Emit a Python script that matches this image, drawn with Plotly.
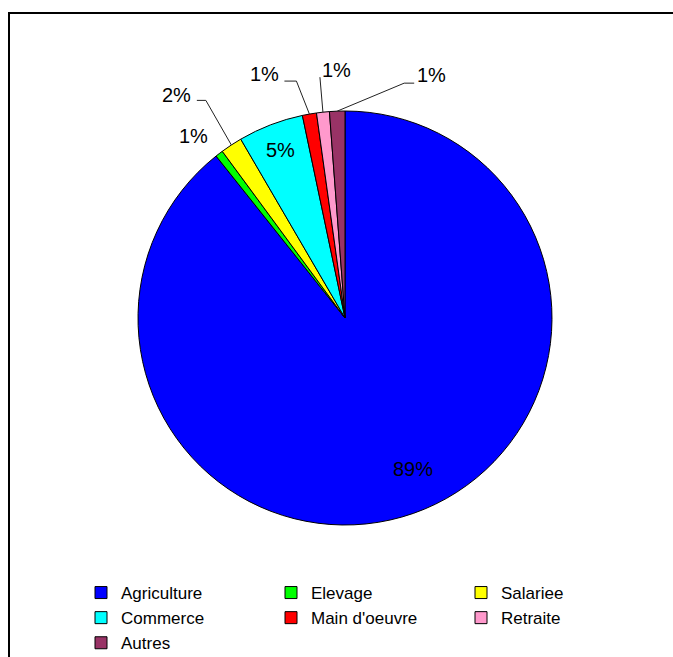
import math
import plotly.graph_objects as go

# ---- data ----
categories = ["Agriculture", "Elevage", "Salariee", "Commerce", "Main d'oeuvre", "Retraite", "Autres"]
values = [89.3, 0.6, 1.7, 5.1, 1.1, 1.0, 1.2]
colors = ["#0000FF", "#00FF00", "#FFFF00", "#00FFFF", "#FF0000", "#FF99CC", "#993366"]

# ---- layout constants (pixels) ----
W, H = 673, 657
CX, CY, R = 345, 318, 207

def px(x):
    return x / W

def py(y):
    return 1 - y / H

# label styles per slice: ("in", radius_factor, angle_offset_deg) or ("out", [line offsets...], label offset)
label_style = {
    "Agriculture": ("in", 0.8, -5),
    "Commerce": ("in", 0.87, 0),
    "Elevage": ("out", [], (-26, -18)),
    "Salariee": ("out", [(-25.5, -44.6), (-9, 0)], (-20, -5)),
    "Main d'oeuvre": ("out", [(-13, -33), (-12, 0)], (-20, -7)),
    "Retraite": ("out", [(-3, -35)], (17, -7)),
    "Autres": ("out", [(67, -28), (10, 0)], (17, -8)),
}

total = sum(values)
fig = go.Figure(go.Pie(
    labels=categories, values=values, sort=False, direction="clockwise", rotation=0,
    marker=dict(colors=colors, line=dict(color="black", width=1)),
    textinfo="none", hoverinfo="label+percent",
    domain=dict(x=[px(CX - R), px(CX + R)], y=[py(CY + R), py(CY - R)]),
))

annotations = []
shapes = []
cum = 0.0
for cat, v in zip(categories, values):
    mid = (cum + v / 2) / total * 2 * math.pi
    cum += v
    pct = f"{math.floor(v / total * 100 + 0.5):.0f}%"
    st = label_style[cat]
    if st[0] == "in":
        r = R * st[1]
        a = mid + math.radians(st[2])
        lx = CX + r * math.sin(a)
        ly = CY - r * math.cos(a)
    else:
        ex = CX + R * math.sin(mid)
        ey = CY - R * math.cos(mid)
        pts = [(ex, ey)]
        x, y = ex, ey
        for dx, dy in st[1]:
            x, y = x + dx, y + dy
            pts.append((x, y))
        if len(pts) > 1:
            path = "M " + " L ".join(f"{px(a):.5f},{py(b):.5f}" for a, b in pts)
            shapes.append(dict(type="path", xref="paper", yref="paper", path=path,
                               line=dict(color="#222222", width=1)))
        lx, ly = x + st[2][0], y + st[2][1]
    annotations.append(dict(x=px(lx), y=py(ly), xref="paper", yref="paper", text=pct,
                            showarrow=False, xanchor="center", yanchor="middle",
                            font=dict(family="Liberation Sans, Arial", size=20, color="black")))

# outer frame
shapes.append(dict(type="rect", xref="paper", yref="paper", x0=px(9), y0=py(13), x1=1.05, y1=-0.05,
                   line=dict(color="black", width=2), fillcolor="rgba(0,0,0,0)", layer="below"))

fig.update_layout(
    width=W, height=H, margin=dict(l=0, r=0, t=0, b=0, autoexpand=False),
    paper_bgcolor="white", plot_bgcolor="white",
    font=dict(family="Liberation Sans, Arial", color="black"),
    annotations=annotations, shapes=shapes,
    legend=dict(orientation="h", x=px(81), y=-4 / H, xanchor="left", yanchor="bottom",
                entrywidth=145, entrywidthmode="pixels", itemwidth=30, tracegroupgap=0,
                font=dict(family="Liberation Sans, Arial", size=17, color="black"),
                bgcolor="rgba(0,0,0,0)"),
)

fig.write_html("out.html")
